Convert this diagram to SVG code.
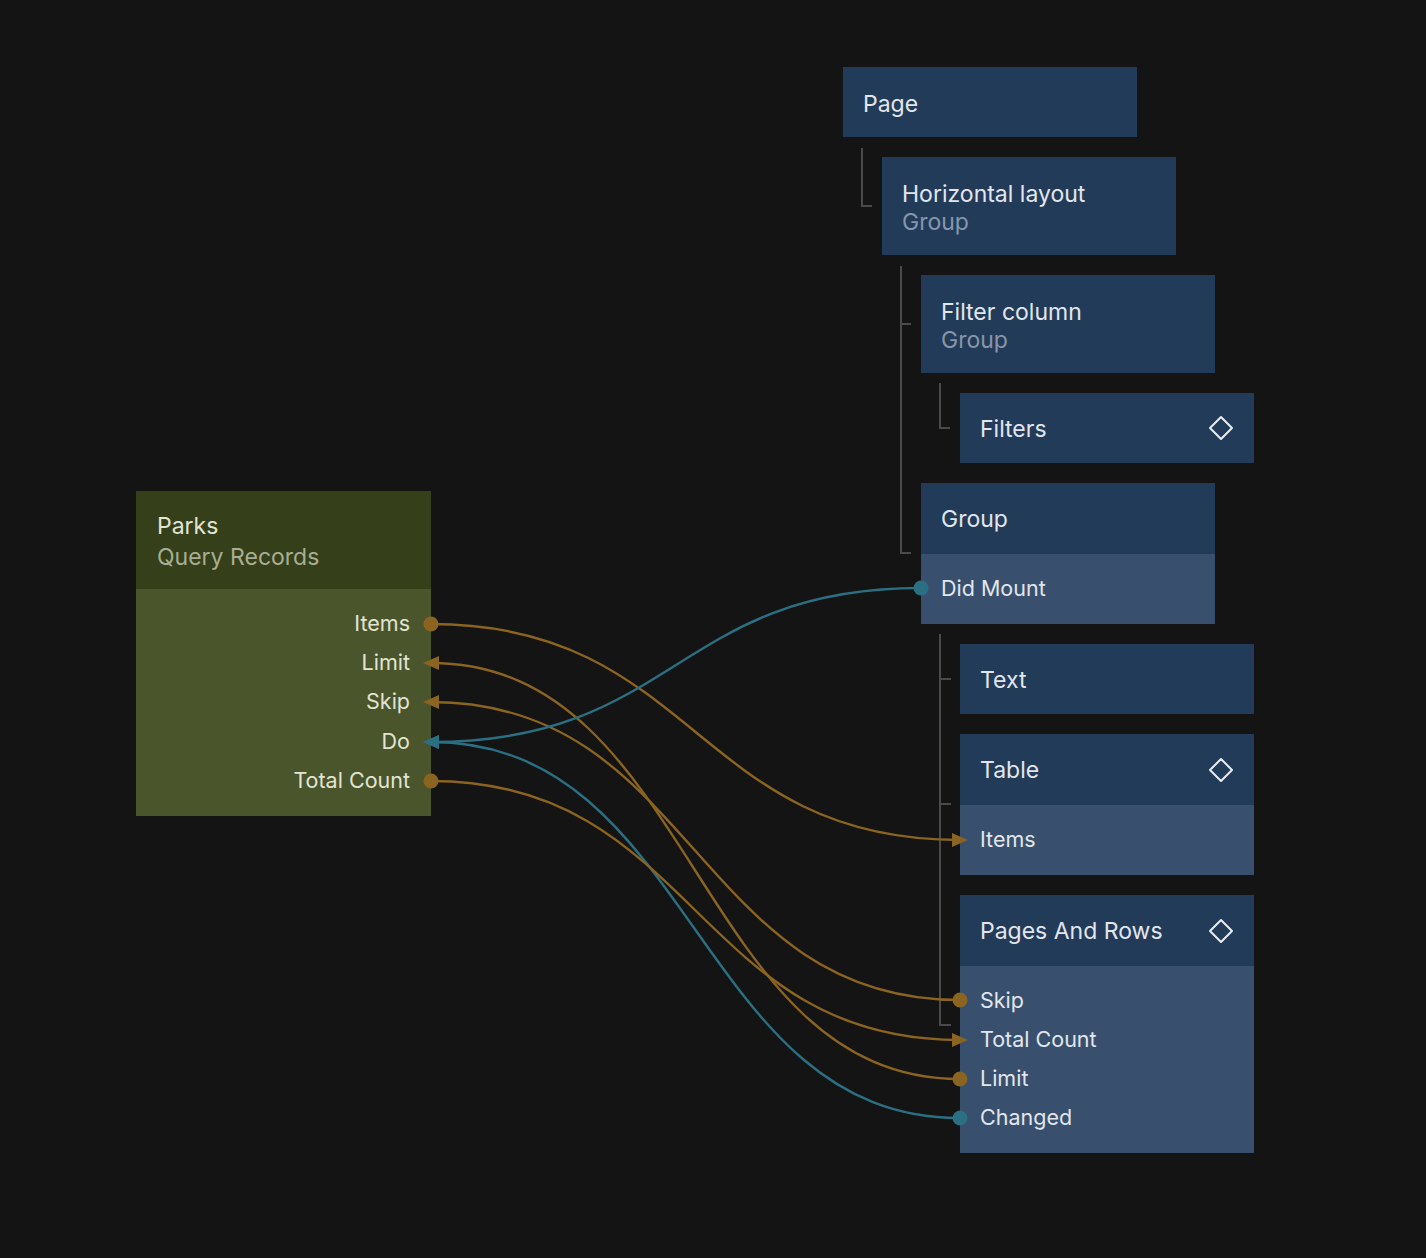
<svg xmlns="http://www.w3.org/2000/svg" width="1426" height="1258" viewBox="0 0 1426 1258">
<defs>
<style>
.bg{fill:#141414}
.hdr{fill:#223b59}
.body{fill:#38506e}
.phdr{fill:#35401a}
.pbody{fill:#4a552c}
text{font-family:Inter,"Noto Sans","Liberation Sans",sans-serif;font-size:23px}
.port{font-size:21.5px}
.t{fill:#e2e6ec}
.sub{fill:#8796aa}
.pt{fill:#e2e4d4}
.psub{fill:#a9ad92}
.tree{fill:none;stroke:#4a4a4a;stroke-width:2}
.dia{fill:none;stroke:#e8ecf0;stroke-width:2;stroke-linejoin:round}
.wo{fill:none;stroke:#8a6420;stroke-width:2.4}
.wt{fill:none;stroke:#2a6f82;stroke-width:2.4}
.do{fill:#8a6420}
.dt{fill:#2a6f82}
</style>
<marker id="ao" markerUnits="userSpaceOnUse" markerWidth="16" markerHeight="14" refX="8" refY="7" orient="auto"><path d="M0,0 L16,7 L0,14 z" fill="#8a6420"/></marker>
<marker id="at" markerUnits="userSpaceOnUse" markerWidth="16" markerHeight="14" refX="8" refY="7" orient="auto"><path d="M0,0 L16,7 L0,14 z" fill="#2a6f82"/></marker>
</defs>
<rect class="bg" x="0" y="0" width="1426" height="1258"/>

<g id="tree-lines">
<path class="tree" d="M862,148 V206 H872"/>
<path class="tree" d="M901,266 V553 H911 M901,324 H911"/>
<path class="tree" d="M940,383 V428 H950"/>
<path class="tree" d="M940,634 V1025 H951 M940,679 H951 M940,804 H951"/>
</g>

<g id="node-page">
<rect class="hdr" x="843" y="67" width="294" height="70"/>
<text class="t" x="863" y="112">Page</text>
</g>

<g id="node-horizontal-layout">
<rect class="hdr" x="882" y="157" width="294" height="98"/>
<text class="t" x="902" y="202">Horizontal layout</text>
<text class="sub" x="902" y="230">Group</text>
</g>

<g id="node-filter-column">
<rect class="hdr" x="921" y="275" width="294" height="98"/>
<text class="t" x="941" y="320">Filter column</text>
<text class="sub" x="941" y="348">Group</text>
</g>

<g id="node-filters">
<rect class="hdr" x="960" y="393" width="294" height="70"/>
<text class="t" x="980" y="437">Filters</text>
<path class="dia" d="M1221,417 L1232,428 L1221,439 L1210,428 Z"/>
</g>

<g id="node-group">
<rect class="hdr" x="921" y="483" width="294" height="71"/>
<rect class="body" x="921" y="554" width="294" height="70"/>
<text class="t" x="941" y="527">Group</text>
<text class="t port" x="941" y="596">Did Mount</text>
</g>

<g id="node-text">
<rect class="hdr" x="960" y="644" width="294" height="70"/>
<text class="t" x="980" y="688">Text</text>
</g>

<g id="node-table">
<rect class="hdr" x="960" y="734" width="294" height="71"/>
<rect class="body" x="960" y="805" width="294" height="70"/>
<text class="t" x="980" y="778">Table</text>
<path class="dia" d="M1221,759 L1232,770 L1221,781 L1210,770 Z"/>
<text class="t port" x="980" y="847">Items</text>
</g>

<g id="node-pages-and-rows">
<rect class="hdr" x="960" y="895" width="294" height="71"/>
<rect class="body" x="960" y="966" width="294" height="187"/>
<text class="t" x="980" y="939">Pages And Rows</text>
<path class="dia" d="M1221,920 L1232,931 L1221,942 L1210,931 Z"/>
<text class="t port" x="980" y="1008">Skip</text>
<text class="t port" x="980" y="1047">Total Count</text>
<text class="t port" x="980" y="1086">Limit</text>
<text class="t port" x="980" y="1125">Changed</text>
</g>

<g id="node-parks">
<rect class="phdr" x="136" y="491" width="295" height="98"/>
<rect class="pbody" x="136" y="589" width="295" height="227"/>
<text class="pt" x="157" y="534">Parks</text>
<text class="psub" x="157" y="565">Query Records</text>
<g text-anchor="end">
<text class="pt port" x="410" y="631">Items</text>
<text class="pt port" x="410" y="670">Limit</text>
<text class="pt port" x="410" y="709">Skip</text>
<text class="pt port" x="410" y="749">Do</text>
<text class="pt port" x="410" y="788">Total Count</text>
</g>
</g>

<g id="connectors">
<path class="wo" d="M431,624 C695,624 696,840 960,840" marker-end="url(#ao)"/>
<path class="wo" d="M960,1079 C696,1079 695,663 431,663" marker-end="url(#ao)"/>
<path class="wo" d="M960,1000 C696,1000 695,702 431,702" marker-end="url(#ao)"/>
<path class="wt" d="M921,588 C676,588 676,742 431,742" marker-end="url(#at)"/>
<path class="wt" d="M960,1118 C696,1118 695,742 431,742" marker-end="url(#at)"/>
<path class="wo" d="M431,781 C695,781 696,1040 960,1040" marker-end="url(#ao)"/>
<circle class="do" cx="431" cy="624" r="7.5"/>
<circle class="do" cx="431" cy="781" r="7.5"/>
<circle class="dt" cx="921" cy="588" r="7.5"/>
<circle class="do" cx="960" cy="1000" r="7.5"/>
<circle class="do" cx="960" cy="1079" r="7.5"/>
<circle class="dt" cx="960" cy="1118" r="7.5"/>
</g>
</svg>
